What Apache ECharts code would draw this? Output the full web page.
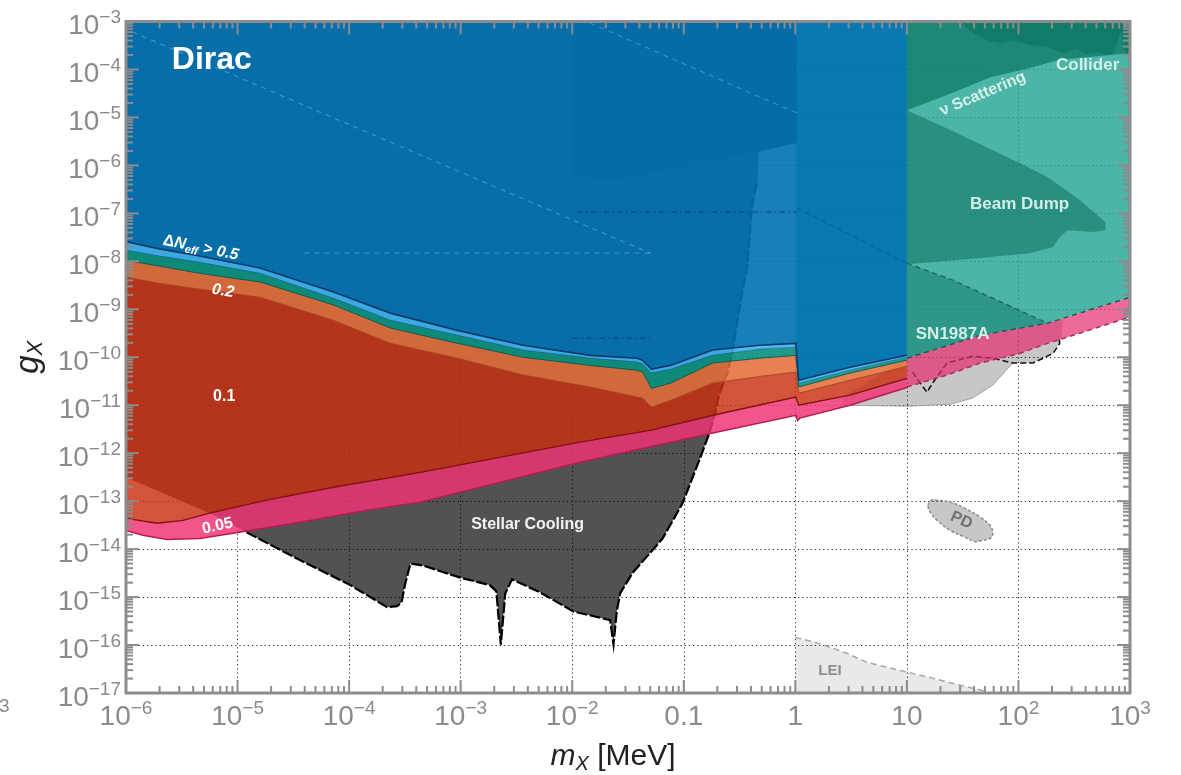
<!DOCTYPE html>
<html>
<head>
<meta charset="utf-8">
<script src="https://cdn.jsdelivr.net/npm/echarts@6/dist/echarts.min.js"></script>
<style>
  html, body { margin: 0; padding: 0; background: #fff; }
  #chart { width: 1181px; height: 775px; }
</style>
</head>
<body>
<div id="chart"></div>
<script>
// Every point below is [log10(m_X / MeV), log10(g_X)].

// ---- axes ----
const X_MIN = -6, X_MAX = 3, Y_MIN = -17, Y_MAX = -3;
const xTickLabels = [['10','\u22126'],['10','\u22125'],['10','\u22124'],['10','\u22123'],['10','\u22122'],
                     ['0.1',''],['1',''],['10',''],['10','2'],['10','3']];
const yTickLabels = [['10','\u221217'],['10','\u221216'],['10','\u221215'],['10','\u221214'],['10','\u221213'],
                     ['10','\u221212'],['10','\u221211'],['10','\u221210'],['10','\u22129'],['10','\u22128'],
                     ['10','\u22127'],['10','\u22126'],['10','\u22125'],['10','\u22124'],['10','\u22123']];

// ---- Delta N_eff contours (lower edges), m_X up to 10 MeV ----
const neffX       = [-6, -5.70, -5.34, -4.80, -4.14, -3.63, -3.03, -2.44, -1.84, -1.42, -1.37, -1.29, -1.12, -0.74, -0.32, 0.005, 0.03, 0.49, 1.0];
const edgeBlueY   = [-7.59, -7.74, -7.89, -8.14, -8.64, -9.08, -9.44, -9.75, -9.96, -10.02, -10.06, -10.25, -10.17, -9.85, -9.75, -9.71, -10.48, -10.21, -9.96];
const edgeCyanY   = [-7.77, -7.89, -8.02, -8.25, -8.77, -9.23, -9.54, -9.85, -10.02, -10.10, -10.14, -10.33, -10.25, -9.96, -9.83, -9.79, -10.54, -10.27, -10.00];
const edgeTealY   = [-7.98, -8.10, -8.25, -8.43, -8.91, -9.39, -9.71, -10.00, -10.17, -10.27, -10.31, -10.65, -10.54, -10.12, -10.02, -9.96, -10.62, -10.33, -10.06];
const edgeOrangeY = [-8.33, -8.46, -8.58, -8.75, -9.23, -9.71, -10.02, -10.37, -10.62, -10.83, -10.85, -11.04, -10.90, -10.54, -10.40, -10.31, -10.75, -10.48, -10.19];
const edgeRed  = [[-6,-13.36],[-5.72,-13.46],[-5.49,-13.40],[-5.25,-13.25],[-4.74,-12.98],[-4.14,-12.71],[-3.36,-12.40],
                  [-1.93,-11.77],[-1.29,-11.52],[-0.74,-11.21],[0.005,-10.83],[0.03,-11.00],[0.49,-10.79],[1.0,-10.44]];
const edgePink = [[-6,-13.61],[-5.85,-13.71],[-5.63,-13.80],[-5.34,-13.78],[-5.04,-13.67],[-4.44,-13.44],[-3.84,-13.19],
                  [-3.36,-13.02],[-1.93,-12.19],[-0.74,-11.58],[0.005,-11.21],[0.02,-11.32],[0.04,-11.27],[0.49,-11.00],[1.0,-10.63]];
// 0.05 contour above 10 MeV and the SN1987A lower edge that bounds it
const edgePinkHigh = [[1.0,-10.62],[1.36,-10.37],[1.66,-10.12],[2.01,-9.92],[2.26,-9.71],[2.55,-9.50],[3,-9.16]];
const sn1987aLower = [[1.0,-10.02],[1.66,-9.54],[2.26,-9.29],[3,-8.75]];

// ---- Stellar cooling ----
const stellar = [[-6,-3],[-6,-12.50],[-5.25,-13.25],[-4.92,-13.65],[-4.44,-14.23],[-3.99,-14.75],[-3.66,-15.21],[-3.57,-15.19],
  [-3.53,-15.11],[-3.50,-14.75],[-3.45,-14.30],[-3.34,-14.34],[-3.01,-14.59],[-2.74,-14.75],[-2.68,-14.88],[-2.64,-15.99],
  [-2.60,-14.92],[-2.54,-14.63],[-2.29,-14.90],[-1.99,-15.30],[-1.66,-15.48],[-1.63,-15.99],[-1.60,-15.28],[-1.57,-14.92],
  [-1.46,-14.50],[-1.19,-13.78],[-1.01,-13.04],[-0.85,-12.08],[-0.77,-11.58],[-0.72,-11.17],[-0.68,-10.75],[-0.61,-10.33],
  [-0.56,-9.85],[-0.50,-8.96],[-0.43,-8.08],[-0.39,-6.87],[-0.34,-6.31],[-0.33,-5.72],[0.015,-5.53],[0.015,-3]];
const stellarEdge = [[-4.92,-13.65],[-4.44,-14.23],[-3.99,-14.75],[-3.66,-15.21],[-3.57,-15.19],[-3.53,-15.11],[-3.50,-14.75],
  [-3.45,-14.30],[-3.34,-14.34],[-3.01,-14.59],[-2.74,-14.75],[-2.68,-14.88],[-2.64,-15.99],[-2.60,-14.92],[-2.54,-14.63],
  [-2.29,-14.90],[-1.99,-15.30],[-1.66,-15.48],[-1.63,-15.99],[-1.60,-15.28],[-1.57,-14.92],[-1.46,-14.50],[-1.19,-13.78],
  [-1.01,-13.04],[-0.85,-12.08],[-0.77,-11.58],[-0.72,-11.17],[-0.68,-10.75],[-0.61,-10.33],[-0.56,-9.85],[-0.50,-8.96],
  [-0.43,-8.08],[-0.39,-6.87],[-0.34,-6.31]];
const upperBound = [[-1.99,-3],[0.015,-3],[0.015,-5.53],[-0.34,-5.72],[-1.03,-6.04],[-1.63,-6.31],[-1.99,-6.35]];

// ---- laboratory / astrophysical bounds ----
const snUnderNeff = [[0.01,-3],[1,-3],[1,-9.97],[0.49,-10.20],[0.03,-10.46],[0.01,-9.80]];
const sn1987a     = [[1,-3],[3,-3],[3,-8.75],[2.26,-9.29],[1.66,-9.54],[1,-10.02]];
const nuScatter   = [[1,-3],[3,-3],[3,-3.66],[2.73,-3.72],[2.37,-3.80],[2.10,-3.97],[1.75,-4.16],[1.36,-4.53],[1,-4.85]];
const collider    = [[1.49,-3],[1.54,-3.14],[1.61,-3.26],[1.72,-3.39],[1.84,-3.45],[1.95,-3.39],[2.10,-3.49],[2.26,-3.53],
                     [2.40,-3.66],[2.51,-3.57],[2.60,-3.68],[2.71,-3.64],[2.80,-3.70],[2.85,-3.66],[2.89,-3.39],[2.92,-3.18],
                     [2.95,-3.59],[2.97,-3.70],[3,-3.66],[3,-3]];
const beamDump    = [[1,-4.85],[1.39,-5.26],[2.01,-5.95],[2.26,-6.24],[2.55,-6.72],[2.73,-7.08],[2.78,-7.18],[2.78,-7.35],
                     [2.67,-7.39],[2.44,-7.35],[2.37,-7.50],[2.31,-7.70],[2.10,-7.83],[1.66,-7.93],[1,-8.06]];
const snWedge     = [[1,-8.04],[1.41,-8.39],[1.95,-8.96],[2.26,-9.29],[1.66,-9.54],[1,-10.02]];
const snWedgeTop  = [[1,-8.04],[1.41,-8.39],[1.95,-8.96],[2.26,-9.29]];
const grayBand    = [[0.43,-11.0],[1.01,-11.02],[1.39,-10.98],[1.59,-10.85],[1.77,-10.58],[1.93,-10.17],[1.95,-10.12],[2.13,-10.12],
                     [2.31,-9.92],[2.37,-9.71],[2.39,-9.54],[2.40,-9.19],[2.26,-9.29],[1.66,-9.54],[1,-10.02],[0.43,-10.83]];
const grayBandEdge = [[0.43,-11.0],[1.01,-11.02],[1.39,-10.98],[1.59,-10.85],[1.77,-10.58],[1.93,-10.17],[1.95,-10.12]];
const dashedBound = [[1.05,-10.31],[1.12,-10.54],[1.18,-10.73],[1.23,-10.54],[1.36,-10.12],[1.59,-9.98],[1.77,-10.02],
                     [1.95,-10.12],[2.13,-10.12],[2.31,-9.92],[2.37,-9.71],[2.36,-9.56]];
const pd  = [[1.19,-13.09],[1.22,-12.98],[1.27,-12.98],[1.39,-13.02],[1.52,-13.15],[1.66,-13.34],[1.75,-13.52],[1.77,-13.67],
             [1.75,-13.77],[1.67,-13.82],[1.61,-13.84],[1.52,-13.75],[1.39,-13.61],[1.28,-13.42],[1.21,-13.23]];
const lei = [[0,-17],[0,-15.84],[0.22,-15.97],[0.46,-16.17],[0.64,-16.36],[1.01,-16.57],[1.23,-16.69],[1.48,-16.84],[1.72,-16.97],[1.8,-17]];

// faint boundaries of further bounds hidden under the N_eff region
const hidden1  = [[-5.94,-3.22],[-1.30,-7.83]];
const hidden1h = [[-4.40,-7.83],[-1.30,-7.83]];
const hidden2  = [[-1.84,-3.03],[0.015,-4.91]];
const hidden3  = [[-1.96,-6.97],[0.015,-6.97]];
const hidden4  = [[0.015,-6.89],[1,-8.04]];
const hidden5  = [[-2.0,-9.60],[-1.30,-9.60]];

// ---- annotations ----
const annoLabels = ['Dirac', '{a|\u0394}{n|N}{e|eff}{n| > 0.5}', '0.2', '0.1', '0.05', 'Stellar Cooling',
                    'Collider', '\u03bd Scattering', 'Beam Dump', 'SN1987A', 'PD', 'LEI'];
const annoPos = [[-5.23,-3.80],[-5.33,-7.72],[-5.13,-8.62],[-5.12,-10.83],[-5.18,-13.52],[-2.40,-13.48],
                 [2.62,-3.91],[1.68,-4.51],[2.01,-6.81],[1.41,-9.52],[1.49,-13.40],[0.31,-16.53]];

// ---------------------------------------------------------------
const FONT = "'Liberation Sans', Arial, Helvetica, sans-serif";
const zip = (xs, ys) => xs.map((x, i) => [x, ys[i]]);
const edgeBlue = zip(neffX, edgeBlueY);
const edgeCyan = zip(neffX, edgeCyanY);
const edgeTeal = zip(neffX, edgeTealY);
const edgeOrange = zip(neffX, edgeOrangeY);
const band = (upper, lower) => upper.concat(lower.slice().reverse());
const topEdge = [[X_MIN, Y_MAX], [1, Y_MAX]];

function area(pts, style, smooth) {
  return {
    type: 'custom', coordinateSystem: 'cartesian2d', silent: true, animation: false, clip: true,
    data: pts, encode: { x: 0, y: 1 },
    renderItem: (params, api) => params.dataIndex !== 0 ? null : {
      type: 'polygon',
      shape: { points: pts.map(p => api.coord(p)), smooth: smooth || 0 },
      style: Object.assign({ stroke: null }, style)
    }
  };
}
function line(pts, style) {
  return {
    type: 'custom', coordinateSystem: 'cartesian2d', silent: true, animation: false, clip: true,
    data: pts, encode: { x: 0, y: 1 },
    renderItem: (params, api) => params.dataIndex !== 0 ? null : {
      type: 'polyline',
      shape: { points: pts.map(p => api.coord(p)) },
      style: Object.assign({ fill: null, lineWidth: 1.2 }, style)
    }
  };
}

const white = '#ffffff', mint = 'rgba(225,246,240,0.92)';
const bold = (size) => ({ fontSize: size, fontWeight: 'bold', fontFamily: FONT });
const labelStyles = [
  Object.assign({ color: white }, bold(32)),
  Object.assign({ color: white, rot: -0.2, rich: {
    a: Object.assign({ color: white, lineHeight: 20 }, bold(16)),
    n: Object.assign({ color: white, lineHeight: 20, fontStyle: 'italic' }, bold(16)),
    e: Object.assign({ color: white, lineHeight: 10, fontStyle: 'italic', verticalAlign: 'bottom' }, bold(11))
  } }, bold(16)),
  Object.assign({ color: white, rot: -0.165, fontStyle: 'italic' }, bold(16)),
  Object.assign({ color: white }, bold(16)),
  Object.assign({ color: white, rot: 0.21 }, bold(16)),
  Object.assign({ color: '#f2f2f2' }, bold(16)),
  Object.assign({ color: mint }, bold(17)),
  Object.assign({ color: mint, rot: 0.40 }, bold(16)),
  Object.assign({ color: mint }, bold(17)),
  Object.assign({ color: mint }, bold(17)),
  Object.assign({ color: '#707070', rot: -0.42 }, bold(16)),
  Object.assign({ color: '#8e8e8e' }, bold(15))
];

const labelSeries = {
  type: 'custom', coordinateSystem: 'cartesian2d', silent: true, animation: false,
  data: annoPos, encode: { x: 0, y: 1 }, z: 5,
  renderItem: (params, api) => {
    const i = params.dataIndex, st = labelStyles[i], p = api.coord(annoPos[i]);
    return {
      type: 'text', x: p[0], y: p[1], rotation: st.rot || 0,
      style: {
        text: annoLabels[i], fill: st.color, fontSize: st.fontSize, fontWeight: st.fontWeight,
        fontStyle: st.fontStyle || 'normal', fontFamily: st.fontFamily,
        align: 'center', verticalAlign: 'middle', rich: st.rich
      }
    };
  }
};

// frame with inward ticks on all four sides
const minorOf = (lo, hi) => {
  const out = [];
  for (let n = lo; n < hi; n++) for (let k = 2; k <= 9; k++) out.push(n + Math.log10(k));
  return out;
};
const xMajor = xTickLabels.map((_, i) => X_MIN + i), yMajor = yTickLabels.map((_, i) => Y_MIN + i);
const xMinor = minorOf(X_MIN, X_MAX), yMinor = minorOf(Y_MIN, Y_MAX);
const FRAME = '#8c8c8c';
const frameSeries = {
  type: 'custom', coordinateSystem: 'cartesian2d', silent: true, animation: false, z: 10,
  data: [[X_MIN, Y_MIN]], encode: { x: 0, y: 1 },
  renderItem: (params, api) => {
    const tl = api.coord([X_MIN, Y_MAX]), br = api.coord([X_MAX, Y_MIN]);
    const kids = [];
    const seg = (x1, y1, x2, y2) => kids.push({ type: 'line', shape: { x1, y1, x2, y2 },
      style: { stroke: FRAME, lineWidth: 2 } });
    const xt = (v, len) => { const x = api.coord([v, Y_MIN])[0]; seg(x, br[1], x, br[1] - len); seg(x, tl[1], x, tl[1] + len); };
    const yt = (v, len) => { const y = api.coord([X_MIN, v])[1]; seg(tl[0], y, tl[0] + len, y); seg(br[0], y, br[0] - len, y); };
    xMajor.forEach(v => xt(v, 13)); xMinor.forEach(v => xt(v, 7));
    yMajor.forEach(v => yt(v, 13)); yMinor.forEach(v => yt(v, 7));
    kids.push({ type: 'rect', shape: { x: tl[0], y: tl[1], width: br[0] - tl[0], height: br[1] - tl[1] },
      style: { fill: null, stroke: FRAME, lineWidth: 3 } });
    return { type: 'group', children: kids };
  }
};

const tickRich = {
  b: { fontSize: 28, lineHeight: 32, verticalAlign: 'bottom', color: '#8a8a8a', fontFamily: FONT },
  s: { fontSize: 19, lineHeight: 19, verticalAlign: 'top', color: '#8a8a8a', fontFamily: FONT }
};
const tickText = (pair) => pair[1] ? `{b|${pair[0]}}{s|${pair[1]}}` : `{b|${pair[0]}}`;
const gridDots = { show: true, lineStyle: { color: '#2a2a2a', width: 1, type: [1.2, 3] } };

const option = {
  backgroundColor: '#fff',
  animation: false,
  grid: { left: 126, right: 51, top: 21.5, bottom: 82, containLabel: false, outerBoundsMode: 'none' },
  xAxis: {
    type: 'value', min: X_MIN, max: X_MAX, interval: 1,
    axisLine: { show: false }, axisTick: { show: false }, splitLine: gridDots,
    axisLabel: { margin: 6, showMinLabel: true, showMaxLabel: true, rich: tickRich,
      formatter: v => tickText(xTickLabels[Math.round(v) - X_MIN]) },
    name: '{i|m}{sub|X}{r| [MeV]}', nameLocation: 'middle', nameGap: 47,
    nameTextStyle: { padding: [0, 30, 0, 0], rich: {
      i: { fontSize: 30, fontStyle: 'italic', color: '#222', lineHeight: 34, fontFamily: FONT },
      sub: { fontSize: 20, fontStyle: 'italic', color: '#222', lineHeight: 16, verticalAlign: 'bottom', fontFamily: FONT },
      r: { fontSize: 30, color: '#222', lineHeight: 34, fontFamily: FONT } } }
  },
  yAxis: {
    type: 'value', min: Y_MIN, max: Y_MAX, interval: 1,
    axisLine: { show: false }, axisTick: { show: false }, splitLine: gridDots,
    axisLabel: { margin: 5, padding: [6, 0, 0, 0], showMinLabel: true, showMaxLabel: true, rich: tickRich,
      formatter: v => tickText(yTickLabels[Math.round(v) - Y_MIN]) },
    name: '{i|g}{sub|X}', nameLocation: 'middle', nameGap: 68, nameRotate: 90,
    nameTextStyle: { rich: {
      i: { fontSize: 33, fontStyle: 'italic', color: '#222', lineHeight: 36, fontFamily: FONT },
      sub: { fontSize: 22, fontStyle: 'italic', color: '#222', lineHeight: 17, verticalAlign: 'bottom', fontFamily: FONT } } }
  },
  graphic: [{ type: 'text', left: -1, top: 697, silent: true,
    style: { text: '3', fontSize: 19, fill: '#8a8a8a', fontFamily: FONT } }],
  series: [
    // light grey bounds
    area(lei, { fill: 'rgba(0,0,0,0.085)' }),
    line(lei.slice(1, -1), { stroke: '#a8a8a8', lineWidth: 1.5, lineDash: [6, 4] }),
    area(pd, { fill: 'rgba(0,0,0,0.22)', stroke: '#8a8a8a', lineWidth: 1.5, lineDash: [3, 2] }, 0.4),
    area(grayBand, { fill: 'rgba(0,0,0,0.22)' }),
    line(grayBandEdge, { stroke: '#a3a3a3', lineWidth: 1 }),
    line(dashedBound, { stroke: '#111', lineWidth: 1.6, lineDash: [6, 3] }),
    // stellar cooling
    area(stellar, { fill: 'rgba(5,5,5,0.69)' }),
    line(stellarEdge, { stroke: '#000', lineWidth: 2.2, lineDash: [11, 2.5] }),
    area(upperBound, { fill: 'rgba(0,0,0,0.22)' }),
    area(snUnderNeff, { fill: 'rgba(31,162,145,0.8)' }),
    // Delta N_eff regions
    area(band(edgeRed, edgePink), { fill: 'rgba(241,49,117,0.83)' }),
    area(band(edgeOrange, edgeRed), { fill: 'rgba(201,45,16,0.82)' }),
    area(band(edgeTeal, edgeOrange), { fill: 'rgba(229,109,55,0.87)' }),
    area(band(edgeCyan, edgeTeal), { fill: 'rgba(8,144,124,0.9)' }),
    area(band(edgeBlue, edgeCyan), { fill: 'rgba(56,178,238,0.9)' }),
    area(band(topEdge, edgeBlue), { fill: 'rgba(0,113,180,0.9)' }),
    // faint boundaries under the blue region
    line(hidden1, { stroke: 'rgba(110,180,235,0.55)', lineDash: [5, 5] }),
    line(hidden1h, { stroke: 'rgba(110,180,235,0.45)', lineDash: [5, 5] }),
    line(hidden2, { stroke: 'rgba(110,180,235,0.45)', lineDash: [5, 5] }),
    line(hidden3, { stroke: 'rgba(0,50,100,0.55)', lineDash: [6, 3, 1.5, 3] }),
    line(hidden4, { stroke: 'rgba(0,50,100,0.35)', lineDash: [5, 4] }),
    line(hidden5, { stroke: 'rgba(0,50,100,0.55)', lineDash: [6, 3, 1.5, 3] }),
    // accelerator bounds and SN1987A above 10 MeV
    area(sn1987a, { fill: 'rgba(31,162,145,0.8)' }),
    area(nuScatter, { fill: 'rgba(0,106,86,0.6)' }),
    area(collider, { fill: 'rgba(3,110,92,0.5)' }),
    area(beamDump, { fill: 'rgba(18,118,102,0.6)' }),
    area(snWedge, { fill: 'rgba(18,121,109,0.5)' }),
    area(band(sn1987aLower, edgePinkHigh), { fill: 'rgba(230,44,112,0.7)' }),
    // contour lines
    line(edgePink, { stroke: '#b81a55', lineWidth: 1.4 }),
    line(edgeRed, { stroke: '#7e140c', lineWidth: 1.4 }),
    line(edgeOrange, { stroke: '#a4481f', lineWidth: 1 }),
    line(edgeTeal, { stroke: '#0c5f52', lineWidth: 1 }),
    line(edgeCyan, { stroke: 'rgba(20,90,150,0.8)', lineWidth: 0.8 }),
    line(edgeBlue, { stroke: '#0b3a6a', lineWidth: 1.6 }),
    line(edgePinkHigh, { stroke: '#b02c5e', lineWidth: 1.5, lineDash: [5, 4] }),
    line(sn1987aLower, { stroke: '#1b5e55', lineWidth: 1.5, lineDash: [5, 4] }),
    line(snWedgeTop, { stroke: '#1b5e55', lineWidth: 1.2, lineDash: [5, 4] }),
    labelSeries,
    frameSeries
  ]
};

const chart = echarts.init(document.getElementById('chart'), null, { renderer: 'canvas' });
chart.setOption(option);
</script>
</body>
</html>
